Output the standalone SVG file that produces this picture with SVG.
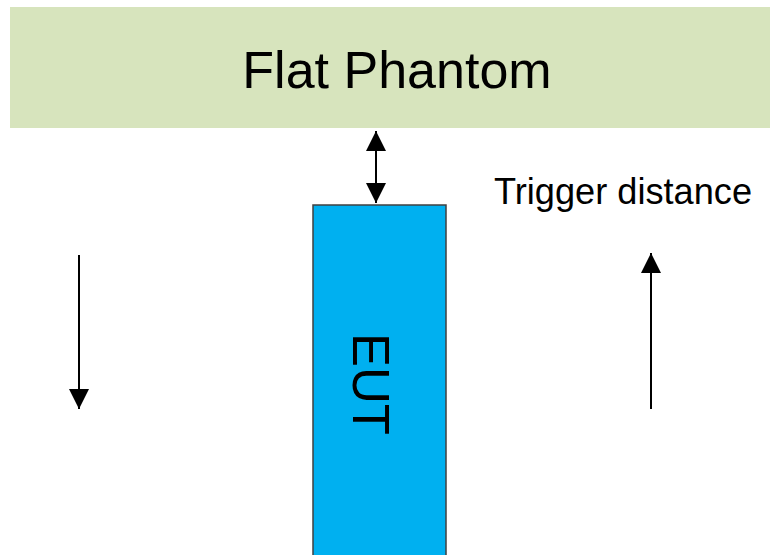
<svg xmlns="http://www.w3.org/2000/svg" width="770" height="555" viewBox="0 0 770 555">
  <style>
    .lbl { font-family: "Liberation Sans", Arial, sans-serif; fill: #000; }
    .line { stroke: #000; stroke-width: 2; fill: none; }
  </style>
  <defs>
    <marker id="ah" viewBox="0 0 20 20" refX="20" refY="10" markerWidth="20" markerHeight="20" markerUnits="userSpaceOnUse" orient="auto-start-reverse">
      <path d="M0,0 L20,10 L0,20 Z" fill="#000"/>
    </marker>
  </defs>
  <rect width="770" height="555" fill="#fff"/>
  <g id="phantom">
    <rect x="10" y="7" width="765" height="121" fill="#D7E4BD"/>
    <text class="lbl" x="397" y="88" font-size="52" text-anchor="middle">Flat Phantom</text>
  </g>
  <g id="eut">
    <rect x="313" y="205" width="133" height="360" fill="#00B0F0" stroke="#404040" stroke-width="1.5"/>
    <text class="lbl" transform="translate(353,384) rotate(90)" font-size="51" text-anchor="middle">EUT</text>
  </g>
  <g id="trigger-label">
    <text class="lbl" x="494" y="204" font-size="36" textLength="258" lengthAdjust="spacingAndGlyphs">Trigger distance</text>
  </g>
  <g id="connectors">
    <line class="line" x1="376" y1="131" x2="376" y2="203" marker-start="url(#ah)" marker-end="url(#ah)"/>
    <line class="line" x1="79" y1="255" x2="79" y2="409" marker-end="url(#ah)"/>
    <line class="line" x1="651" y1="409" x2="651" y2="253" marker-end="url(#ah)"/>
  </g>
</svg>
